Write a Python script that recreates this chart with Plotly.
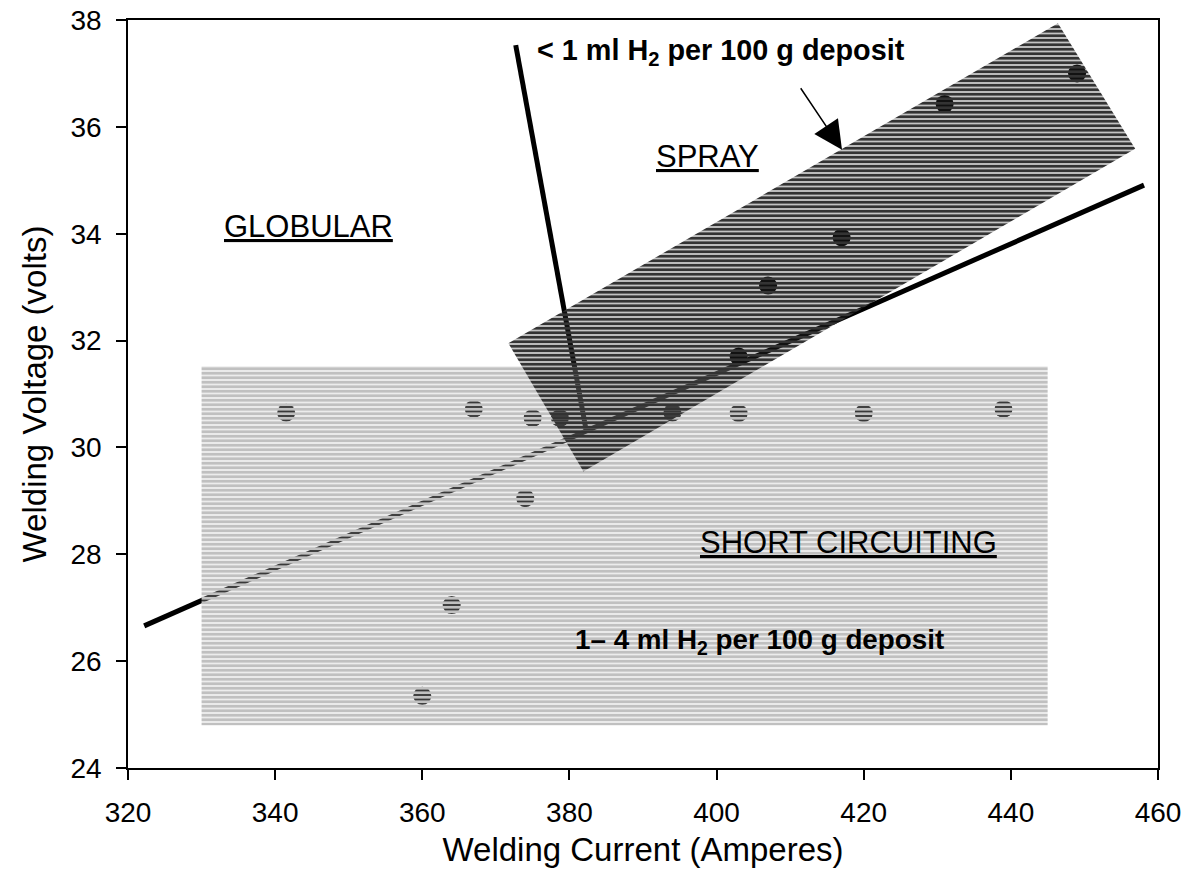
import plotly.graph_objects as go

# ---- data ----
current = [341.5, 360, 364, 367, 374, 375, 378.7, 394, 403, 403, 407, 417, 420, 431, 439, 449]
voltage = [30.65, 25.35, 27.05, 30.72, 29.05, 30.55, 30.55, 30.65, 30.64, 31.7, 33.03, 33.93, 30.64, 36.43, 30.72, 37.0]

# transition boundary lines
boundary_x = [322.2, 458.1]
boundary_y = [26.66, 34.91]
steep_x = [372.7, 382.3]
steep_y = [37.53, 30.3]

# short-circuiting region (rectangle)
short_x = [330, 445, 445, 330, 330]
short_y = [24.8, 24.8, 31.52, 31.52, 24.8]

# spray region (rotated band)
spray_x = [371.7, 446.4, 456.9, 381.9, 371.7]
spray_y = [31.95, 37.94, 35.59, 29.55, 31.95]

# text labels
mode_labels = ["GLOBULAR", "SPRAY", "SHORT CIRCUITING"]
mode_x = [344.6, 398.8, 417.9]
mode_y = [34.13, 35.45, 28.22]

h2_labels = ["< 1 ml H<sub>2</sub> per 100 g deposit", "1\u2013 4 ml H<sub>2</sub> per 100 g deposit"]
h2_x = [400.6, 405.9]
h2_y = [37.40, 26.36]
h2_size = [28.8, 27.8]

arrow_tail = (411.3, 36.75)
arrow_head = (417.05, 35.57)

x_ticks = [320, 340, 360, 380, 400, 420, 440, 460]
y_ticks = [24, 26, 28, 30, 32, 34, 36, 38]

FONT = "Liberation Sans, Arial, sans-serif"

fig = go.Figure()

fig.add_trace(go.Scatter(
    x=boundary_x + [None] + steep_x,
    y=boundary_y + [None] + steep_y,
    mode="lines", line=dict(color="black", width=5),
    hoverinfo="skip", showlegend=False))

fig.add_trace(go.Scatter(
    x=current, y=voltage, mode="markers",
    marker=dict(symbol="circle", size=18, color="black", line=dict(width=0)),
    showlegend=False))

fig.add_trace(go.Scatter(
    x=short_x, y=short_y, mode="lines", fill="toself",
    line=dict(width=0, color="rgba(0,0,0,0)"),
    fillcolor="rgba(0,0,0,0)",
    fillpattern=dict(shape="-", fgcolor="#c0c0c0", bgcolor="rgba(0,0,0,0)",
                     fgopacity=1, fillmode="replace", size=4.5, solidity=0.72),
    hoverinfo="skip", showlegend=False))

fig.add_trace(go.Scatter(
    x=spray_x, y=spray_y, mode="lines", fill="toself",
    line=dict(width=0, color="rgba(0,0,0,0)"),
    fillcolor="rgba(0,0,0,0)",
    fillpattern=dict(shape="-", fgcolor="#333333", bgcolor="rgba(0,0,0,0)",
                     fgopacity=1, fillmode="replace", size=4.5, solidity=0.72),
    hoverinfo="skip", showlegend=False))

annotations = []
for t, x, y in zip(mode_labels, mode_x, mode_y):
    annotations.append(dict(x=x, y=y, xref="x", yref="y", text=t, showarrow=False,
                            font=dict(family=FONT, size=31, color="black", lineposition="under")))
for t, x, y, s in zip(h2_labels, h2_x, h2_y, h2_size):
    annotations.append(dict(x=x, y=y, xref="x", yref="y", text="<b>" + t + "</b>", showarrow=False,
                            font=dict(family=FONT, size=s, color="black")))
annotations.append(dict(x=arrow_head[0], y=arrow_head[1], ax=arrow_tail[0], ay=arrow_tail[1],
                        xref="x", yref="y", axref="x", ayref="y", text="", showarrow=True,
                        arrowhead=2, arrowsize=3.8, arrowwidth=1.5, arrowcolor="black"))

axis_common = dict(showgrid=False, zeroline=False, showline=True, linecolor="black",
                   linewidth=1.5, mirror=True, ticks="outside", ticklen=10, tickwidth=1.5,
                   tickcolor="black", automargin=False, ticklabelstandoff=9,
                   ticklabeloverflow="allow",
                   tickfont=dict(family=FONT, size=28, color="black"))

# the page body adds an 8 px offset, so margins are reduced by 8 px on left/top
fig.update_layout(
    width=1186, height=882,
    margin=dict(l=120, r=36, t=12, b=122, autoexpand=False),
    paper_bgcolor="white", plot_bgcolor="white",
    annotations=annotations,
    xaxis=dict(range=[320, 460], tickvals=x_ticks,
               title=dict(text="Welding Current (Amperes)", font=dict(family=FONT, size=33, color="black"), standoff=11),
               **axis_common),
    yaxis=dict(range=[24, 38], tickvals=y_ticks,
               title=dict(text="Welding Voltage (volts)", font=dict(family=FONT, size=33, color="black"), standoff=14),
               **axis_common),
)

fig.write_html("out.html")
